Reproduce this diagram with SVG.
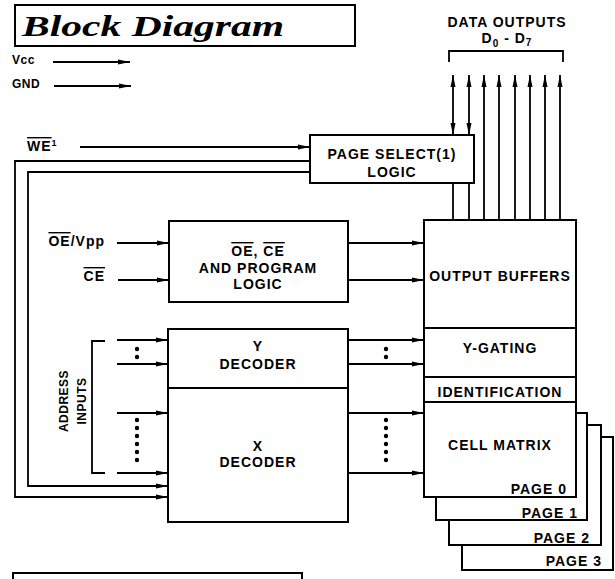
<svg xmlns="http://www.w3.org/2000/svg" width="615" height="579" viewBox="0 0 615 579">
<style>
.bx{fill:#fff;stroke:#000;stroke-width:2}
.ln{fill:none;stroke:#000;stroke-width:1.8}
.ar{marker-end:url(#ah)}
.t{font-family:"Liberation Sans",Arial,sans-serif;font-weight:bold;font-size:14px;letter-spacing:1px;fill:#000}
.c{text-anchor:middle}
.e{text-anchor:end}
.s{font-size:12px;letter-spacing:0.5px}
.ov{text-decoration:overline}
</style>
<defs>
<marker id="ah" viewBox="0 0 12 6" refX="12" refY="3" markerWidth="12" markerHeight="6" markerUnits="userSpaceOnUse" orient="auto-start-reverse">
<path d="M0,0.5 L12,3 L0,5.5 z" fill="#000"/>
</marker>
</defs>
<rect width="615" height="579" fill="#fff"/>

<g id="title">
<rect class="bx" x="15" y="5" width="340" height="41"/>
<text x="22" y="36" font-family="'Liberation Serif','Times New Roman',serif" font-style="italic" font-weight="bold" font-size="30" textLength="262" lengthAdjust="spacingAndGlyphs">Block Diagram</text>
</g>

<g id="power-labels">
<text class="t s" x="12" y="64">Vcc</text>
<text class="t s" x="12" y="88">GND</text>
</g>

<g id="we-label">
<text class="t" x="27" y="151"><tspan class="ov">WE</tspan><tspan font-size="9" dy="-5">1</tspan></text>
</g>

<g id="data-outputs">
<text class="t c" x="507" y="27">DATA OUTPUTS</text>
<text class="t c" x="507" y="43">D<tspan font-size="10" dy="4">0</tspan><tspan dy="-4"> - D</tspan><tspan font-size="10" dy="3">7</tspan></text>
<polyline class="ln" points="449,62 449,51 563,51 563,62"/>
</g>

<g id="page3">
<rect class="bx" x="462" y="437" width="151" height="133"/>
<text class="t e" x="602" y="566">PAGE 3</text>
</g>
<g id="page2">
<rect class="bx" x="449" y="425" width="152" height="120"/>
<text class="t e" x="590" y="543">PAGE 2</text>
</g>
<g id="page1">
<rect class="bx" x="436" y="413" width="151" height="107"/>
<text class="t e" x="578" y="518">PAGE 1</text>
</g>

<g id="output-buffers">
<rect class="bx" x="424" y="220" width="152" height="108"/>
<text class="t c" x="500" y="281">OUTPUT BUFFERS</text>
</g>
<g id="y-gating">
<rect class="bx" x="424" y="328" width="152" height="49"/>
<text class="t c" x="500" y="353">Y-GATING</text>
</g>
<g id="identification">
<rect class="bx" x="424" y="377" width="152" height="25"/>
<text class="t c" x="500" y="397">IDENTIFICATION</text>
</g>
<g id="cell-matrix">
<rect class="bx" x="424" y="402" width="152" height="95"/>
<text class="t c" x="500" y="450">CELL MATRIX</text>
<text class="t e" x="567" y="494">PAGE 0</text>
</g>

<g id="page-select">
<rect class="bx" x="310" y="135" width="164" height="48"/>
<text class="t c" x="392" y="159">PAGE SELECT(1)</text>
<text class="t c" x="392" y="177">LOGIC</text>
</g>

<g id="oe-ce-logic">
<rect class="bx" x="169" y="221" width="179" height="81"/>
<text class="t c" x="258" y="256"><tspan class="ov">OE</tspan>, <tspan class="ov">CE</tspan></text>
<text class="t c" x="258" y="273">AND PROGRAM</text>
<text class="t c" x="258" y="289">LOGIC</text>
</g>

<g id="y-decoder">
<rect class="bx" x="168" y="329" width="180" height="59"/>
<text class="t c" x="258" y="351">Y</text>
<text class="t c" x="258" y="369">DECODER</text>
</g>

<g id="x-decoder">
<rect class="bx" x="168" y="388" width="180" height="134"/>
<text class="t c" x="258" y="451">X</text>
<text class="t c" x="258" y="467">DECODER</text>
</g>

<g id="input-labels">
<text class="t e" x="105" y="246"><tspan class="ov">OE</tspan>/Vpp</text>
<text class="t e" x="105" y="281"><tspan class="ov">CE</tspan></text>
<text class="t c s" transform="translate(68,401) rotate(-90)">ADDRESS</text>
<text class="t c s" transform="translate(86,401) rotate(-90)">INPUTS</text>
<polyline class="ln" points="105,341 92,341 92,473 105,473"/>
</g>

<g id="bottom-box">
<rect class="bx" x="13" y="573" width="289" height="20"/>
</g>

<g id="connectors">
<path class="ln ar" d="M53,62 H130"/>
<path class="ln ar" d="M54,86 H131"/>
<path class="ln ar" d="M80,147 H310"/>
<path class="ln ar" d="M310,161 H15 V497 H168"/>
<path class="ln ar" d="M310,172 H28 V486 H168"/>
<path class="ln ar" d="M117,243 H169"/>
<path class="ln ar" d="M118,280 H169"/>
<path class="ln ar" d="M348,243 H424"/>
<path class="ln ar" d="M348,280 H424"/>
<path class="ln ar" d="M117,340 H168"/>
<path class="ln ar" d="M117,364 H168"/>
<path class="ln ar" d="M117,413 H168"/>
<path class="ln ar" d="M117,473 H168"/>
<path class="ln ar" d="M348,340 H424"/>
<path class="ln ar" d="M348,364 H424"/>
<path class="ln ar" d="M348,413 H424"/>
<path class="ln ar" d="M348,473 H424"/>
<path class="ln" d="M453,183 V220 M469,183 V220"/>
<path class="ln" d="M453,75 V135" marker-start="url(#ah)" marker-end="url(#ah)"/>
<path class="ln" d="M469,75 V135" marker-start="url(#ah)" marker-end="url(#ah)"/>
<path class="ln ar" d="M484,220 V75"/>
<path class="ln ar" d="M499,220 V75"/>
<path class="ln ar" d="M515,220 V75"/>
<path class="ln ar" d="M530,220 V75"/>
<path class="ln ar" d="M545,220 V75"/>
<path class="ln ar" d="M560,220 V75"/>
<g fill="#000">
<circle cx="137" cy="349" r="2.2"/><circle cx="137" cy="357" r="2.2"/>
<circle cx="386" cy="349" r="2.2"/><circle cx="386" cy="357" r="2.2"/>
<circle cx="137" cy="420" r="2.2"/><circle cx="137" cy="428" r="2.2"/><circle cx="137" cy="436" r="2.2"/><circle cx="137" cy="444" r="2.2"/><circle cx="137" cy="452" r="2.2"/><circle cx="137" cy="460" r="2.2"/>
<circle cx="386" cy="420" r="2.2"/><circle cx="386" cy="428" r="2.2"/><circle cx="386" cy="436" r="2.2"/><circle cx="386" cy="444" r="2.2"/><circle cx="386" cy="452" r="2.2"/><circle cx="386" cy="460" r="2.2"/>
</g>
</g>
</svg>
